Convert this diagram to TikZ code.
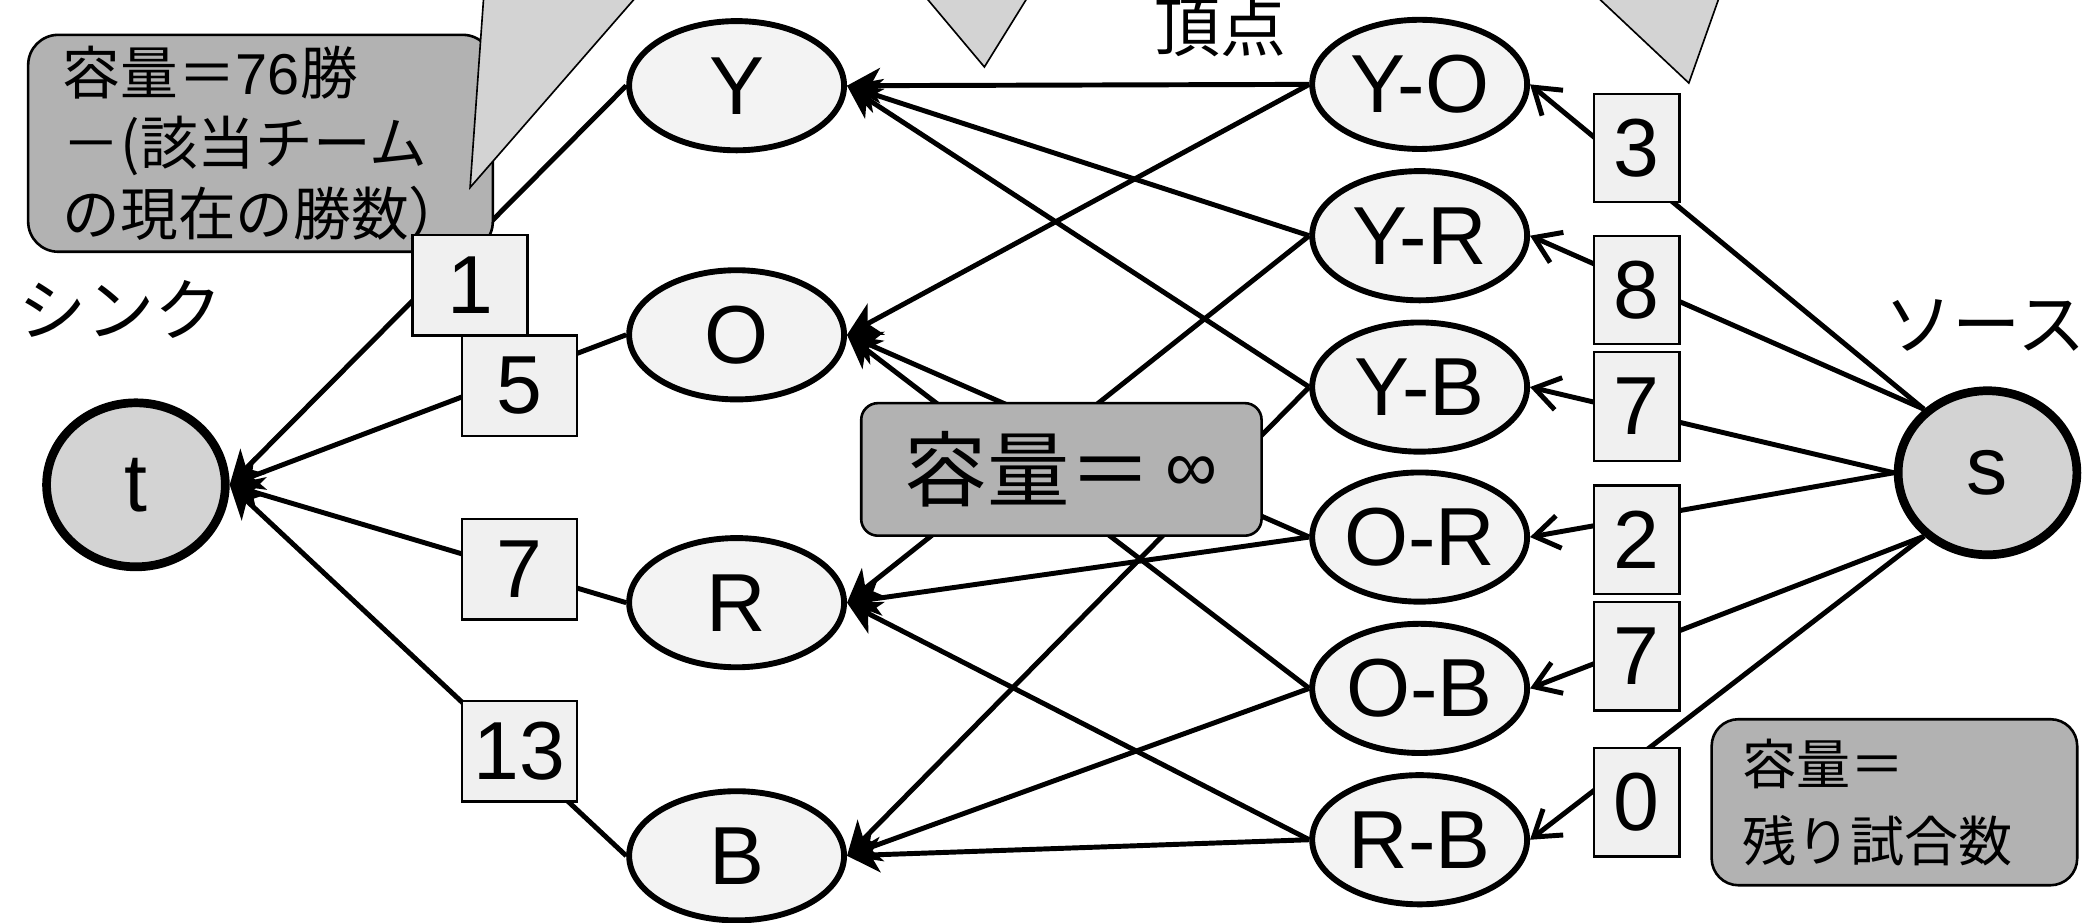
\documentclass[tikz,border=0pt]{standalone}
\usepackage{fontspec}
\setmainfont{Liberation Sans}
\newfontfamily\jp{Noto Sans CJK JP}
\usetikzlibrary{arrows.meta,shapes.geometric}
\definecolor{nodefill}{HTML}{F3F3F3}
\definecolor{endfill}{HTML}{D3D3D3}
\definecolor{boxfill}{HTML}{F0F0F0}
\definecolor{callfill}{HTML}{B2B2B2}
\definecolor{trifill}{HTML}{D3D3D3}
\begin{document}
\begin{tikzpicture}[x=0.02cm,y=0.02cm,
  big/.style={font=\fontsize{35}{40}\selectfont},
  vnode/.style={ellipse,draw,line width=2.5pt,fill=nodefill,minimum width=3.21cm,minimum height=1.93cm,inner sep=0pt,big},
  endnode/.style={ellipse,draw,line width=3.7pt,fill=endfill,minimum width=2.67cm,minimum height=2.45cm,inner sep=0pt,big},
  capl/.style={rectangle,draw,line width=1pt,fill=boxfill,minimum width=1.72cm,minimum height=1.5cm,inner sep=0pt,big},
  capr/.style={capl,minimum width=1.28cm,minimum height=1.62cm},
  edge/.style={line width=2.1pt},
  fillarrow/.style={-{Stealth[length=14pt,width=15pt,inset=4pt]}},
  openarrow/.style={-{Straight Barb[length=10.5pt,width=14pt]}},
  callout/.style={rectangle,draw,line width=1.1pt,fill=callfill,inner ysep=0pt},
  tri/.style={draw,line width=0.7pt,fill=trifill},
  jplabel/.style={font=\jp\fontsize{29}{32}\selectfont}
]
\useasboundingbox (0,0) rectangle (1568,-689);
\clip (0,0) rectangle (1568,-689);

% source and sink
\node[endnode] (t) at (101.5,-362) {t};
\node[endnode] (s) at (1484,-353) {s};

% team vertices
\node[vnode] (Y) at (550,-64) {Y};
\node[vnode] (O) at (550,-250) {O};
\node[vnode] (R) at (550,-450) {R};
\node[vnode] (B) at (550,-639) {B};

% pair vertices
\node[vnode] (YO) at (1060,-63) {Y-O};
\node[vnode] (YR) at (1060,-176) {Y-R};
\node[vnode] (YB) at (1060,-289) {Y-B};
\node[vnode] (OR) at (1060,-401) {O-R};
\node[vnode] (OB) at (1060,-514) {O-B};
\node[vnode] (RB) at (1060,-627) {R-B};

% pair -> team
\foreach \p/\a/\b in {YO/Y/O, YR/Y/R, YB/Y/B, OR/O/R, OB/O/B, RB/R/B} {
  \draw[edge,fillarrow] (\p.west) -- (\a.east);
  \draw[edge,fillarrow] (\p.west) -- (\b.east);
}
% team -> sink
\foreach \a in {Y,O,R,B} {
  \draw[edge,fillarrow] (\a.west) -- (t.east);
}
% source -> pair
\draw[edge,openarrow] (s.135) -- (YO.east);
\draw[edge,openarrow] (s.135) -- (YR.east);
\draw[edge,openarrow] (s.180) -- (YB.east);
\draw[edge,openarrow] (s.180) -- (OR.east);
\draw[edge,openarrow] (s.225) -- (OB.east);
\draw[edge,openarrow] (s.225) -- (RB.east);

% callouts
\node[callout,rounded corners=0.45cm,minimum width=6.94cm,minimum height=3.24cm,
      inner xsep=0.52cm,text width=5.9cm,align=left,
      font=\fontsize{24.5}{30}\selectfont] (cwin) at (194.5,-107)
  {{\jp 容量＝}76{\jp 勝}\\{\jp －(該当チーム}\\{\jp の現在の勝数）}};
\node[callout,rounded corners=0.25cm,minimum width=5.98cm,minimum height=1.98cm,
      font=\fontsize{35}{40}\selectfont] (cinf) at (792.5,-350.5)
  {{\jp 容量＝}\,\raisebox{4pt}{\fontsize{31}{34}\selectfont ∞}};
\node[callout,rounded corners=0.4cm,minimum width=5.46cm,minimum height=2.48cm,
      inner xsep=0.46cm,text width=4.54cm,align=left,
      font=\jp\fontsize{23}{32.6}\selectfont] (crem) at (1414.5,-599)
  {容量＝\\残り試合数};

% capacity boxes, sink side
\node[capl] (c1) at (351,-213) {1};
\node[capl] (c5) at (388,-288) {5};
\node[capl] (c7) at (388,-425) {7};
\node[capl] (c13) at (388,-561) {13};

% capacity boxes, source side
\node[capr] (d3) at (1222,-110.5) {3};
\node[capr] (d8) at (1222,-216.5) {8};
\node[capr] (d7a) at (1222,-303.5) {7};
\node[capr] (d2) at (1222,-403) {2};
\node[capr] (d7b) at (1222,-490) {7};
\node[capr] (d0) at (1222,-599) {0};

% callout tails from above (cut off)
\draw[tri] (361.7,10) -- (351,-140) -- (481.7,10);
\draw[tri] (684.6,10) -- (735,-50) -- (772.2,10);
\draw[tri] (1184.4,10) -- (1261,-62) -- (1286.5,10);

% labels
\node[jplabel] (sinkl) at (90,-231) {シンク};
\node[jplabel] (srcl) at (1482,-243) {ソース};
\node[font=\jp\fontsize{28}{30}\selectfont] (vtxl) at (911,-19.5) {頂点};
\end{tikzpicture}
\end{document}
